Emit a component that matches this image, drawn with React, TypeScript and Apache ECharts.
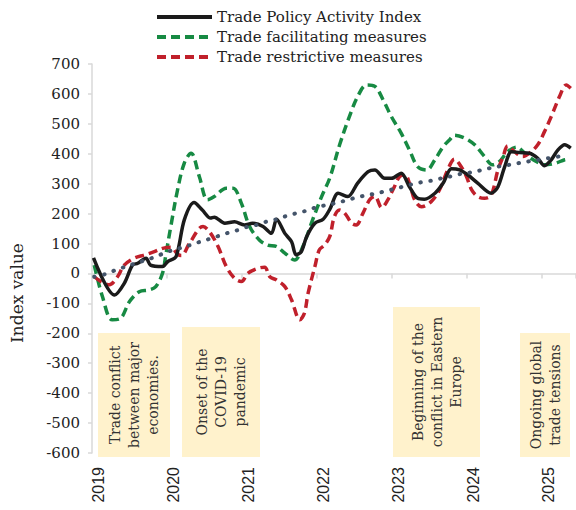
import React, { useEffect, useRef } from "react";
import * as echarts from "echarts";

// Year ticks shown on the x axis
const yearTicks = [2019, 2020, 2021, 2022, 2023, 2024, 2025];

// Series names
const seriesNames = [
  "Trade Policy Activity Index",
  "Trade facilitating measures",
  "Trade restrictive measures",
];

// [year, index value]
const tpai: [number, number][] = [
  [2019.02, 52], [2019.30, -72], [2019.43, -33], [2019.54, 28], [2019.61, 34],
  [2019.72, 51], [2019.78, 28], [2019.94, 23], [2020.01, 40], [2020.12, 56],
  [2020.23, 179], [2020.36, 237], [2020.47, 212], [2020.58, 185], [2020.63, 188],
  [2020.77, 168], [2020.90, 173], [2021.03, 162], [2021.14, 168], [2021.28, 157],
  [2021.39, 134], [2021.46, 181], [2021.57, 134], [2021.66, 106], [2021.72, 62],
  [2021.79, 73], [2021.86, 123], [2021.97, 168], [2022.08, 181], [2022.17, 215],
  [2022.28, 268], [2022.41, 257], [2022.54, 302], [2022.68, 340], [2022.77, 346],
  [2022.90, 318], [2022.99, 318], [2023.12, 335], [2023.23, 290], [2023.34, 251],
  [2023.43, 248], [2023.57, 268], [2023.68, 302], [2023.79, 350], [2023.90, 346],
  [2024.01, 329], [2024.14, 302], [2024.32, 268], [2024.41, 290], [2024.50, 357],
  [2024.59, 407], [2024.70, 404], [2024.83, 402], [2024.94, 385], [2025.03, 360],
  [2025.12, 380], [2025.21, 413], [2025.30, 430], [2025.38, 419],
];

const facilitating: [number, number][] = [
  [2019.03, 28], [2019.14, -78], [2019.27, -155], [2019.38, -150], [2019.50, -94],
  [2019.63, -61], [2019.76, -55], [2019.85, -44], [2019.94, 1], [2019.98, 56],
  [2020.05, 157], [2020.14, 279], [2020.23, 369], [2020.32, 402], [2020.43, 324],
  [2020.54, 246], [2020.63, 257], [2020.79, 285], [2020.88, 285], [2020.99, 235],
  [2021.10, 157], [2021.23, 112], [2021.34, 95], [2021.46, 90], [2021.57, 68],
  [2021.70, 45], [2021.81, 90], [2021.94, 179], [2022.06, 257], [2022.17, 320],
  [2022.30, 430], [2022.43, 524], [2022.54, 591], [2022.66, 630], [2022.77, 625],
  [2022.88, 580], [2022.99, 524], [2023.12, 469], [2023.23, 413], [2023.34, 357],
  [2023.46, 346], [2023.57, 380], [2023.68, 424], [2023.77, 448], [2023.83, 462],
  [2023.97, 452], [2024.10, 430], [2024.23, 391], [2024.34, 363], [2024.43, 374],
  [2024.54, 407], [2024.66, 422], [2024.79, 396], [2024.92, 374], [2025.03, 363],
  [2025.17, 368], [2025.30, 380], [2025.37, 382],
];

const restrictive: [number, number][] = [
  [2019.03, -11], [2019.12, -27], [2019.23, -38], [2019.34, -11], [2019.43, 28],
  [2019.56, 51], [2019.70, 62], [2019.83, 73], [2019.94, 84], [2020.05, 88],
  [2020.14, 65], [2020.19, 60], [2020.30, 101], [2020.48, 157], [2020.57, 138],
  [2020.68, 90], [2020.79, 23], [2020.90, -16], [2020.99, -27], [2021.08, 1],
  [2021.21, 17], [2021.30, 21], [2021.37, -11], [2021.46, -22], [2021.57, -44],
  [2021.66, -89], [2021.77, -155], [2021.83, -133], [2021.88, -66], [2021.97, 23],
  [2022.03, 79], [2022.10, 95], [2022.17, 125], [2022.23, 190], [2022.30, 212],
  [2022.37, 201], [2022.46, 168], [2022.52, 162], [2022.61, 201], [2022.70, 246],
  [2022.77, 258], [2022.86, 220], [2022.94, 245], [2023.03, 290], [2023.10, 324],
  [2023.17, 329], [2023.23, 302], [2023.30, 246], [2023.39, 223], [2023.52, 240],
  [2023.63, 279], [2023.74, 346], [2023.83, 382], [2023.92, 357], [2023.99, 324],
  [2024.06, 279], [2024.14, 257], [2024.23, 251], [2024.32, 262], [2024.41, 346],
  [2024.48, 391], [2024.54, 426], [2024.63, 407], [2024.74, 391], [2024.83, 402],
  [2024.94, 430], [2025.03, 474], [2025.12, 524], [2025.23, 591], [2025.32, 630],
  [2025.38, 619],
];

const trend: [number, number][] = [
  [2019.03, -11], [2019.18, -2], [2019.32, 12], [2019.45, 23], [2019.58, 34],
  [2019.72, 45], [2019.85, 56], [2019.98, 70], [2020.12, 81], [2020.25, 90],
  [2020.38, 101], [2020.52, 112], [2020.66, 123], [2020.79, 134], [2020.92, 143],
  [2021.06, 155], [2021.19, 162], [2021.32, 173], [2021.46, 181], [2021.59, 192],
  [2021.72, 201], [2021.86, 210], [2022.01, 223], [2022.14, 229], [2022.28, 237],
  [2022.41, 246], [2022.54, 255], [2022.68, 262], [2022.83, 270], [2022.97, 279],
  [2023.10, 287], [2023.23, 296], [2023.37, 304], [2023.52, 310], [2023.66, 318],
  [2023.77, 324], [2023.92, 333], [2024.06, 338], [2024.20, 346], [2024.34, 354],
  [2024.48, 360], [2024.61, 365], [2024.75, 372], [2024.89, 377], [2025.03, 383],
  [2025.17, 389], [2025.31, 394],
];

// Annotation texts
const annotations = [
  "Trade conflict\nbetween major\neconomies.",
  "Onset of the\nCOVID-19\npandemic",
  "Beginning of the\nconflict in Eastern\nEurope",
  "Ongoing global\ntrade tensions",
];

const SERIF = '"DejaVu Serif", serif';
const SANS = '"Liberation Sans", Arial, sans-serif';

const boxes = [
  { x: 98, y: 333, w: 72, h: 124 },
  { x: 182, y: 327, w: 78, h: 130 },
  { x: 393, y: 307, w: 87, h: 150 },
  { x: 520, y: 333, w: 50, h: 124 },
];

function buildOption() {
  const graphic: any[] = [];
  boxes.forEach((b, i) => {
    graphic.push({
      type: "rect",
      shape: { x: b.x, y: b.y, width: b.w, height: b.h },
      style: { fill: "#FFF2CC" },
      z: 0,
      silent: true,
    });
    graphic.push({
      type: "text",
      x: b.x + b.w / 2,
      y: b.y + b.h / 2,
      rotation: Math.PI / 2,
      z: 1,
      silent: true,
      style: {
        text: annotations[i],
        fontFamily: SERIF,
        fontSize: 14,
        fill: "#333",
        align: "center",
        verticalAlign: "middle",
        textAlign: "center",
        textVerticalAlign: "middle",
        lineHeight: 19,
      },
    });
  });
  graphic.push({
    type: "text",
    x: 17,
    y: 293,
    rotation: Math.PI / 2,
    silent: true,
    style: {
      text: "Index value",
      fontFamily: SERIF,
      fontSize: 17,
      fill: "#222",
      align: "center",
      verticalAlign: "middle",
      textAlign: "center",
      textVerticalAlign: "middle",
    },
  });

  const xMin = 2019;
  const xMax = 2025.45;

  return {
    animation: false,
    backgroundColor: "#ffffff",
    grid: { left: 92, top: 64, width: 484, height: 389, containLabel: false },
    legend: {
      orient: "vertical",
      left: 155,
      top: 7,
      padding: 0,
      itemGap: 0,
      itemWidth: 55,
      itemHeight: 12,
      data: seriesNames,
      textStyle: { fontFamily: SERIF, fontSize: 15, color: "#222", lineHeight: 20 },
      lineStyle: { width: 4 },
      itemStyle: { opacity: 0 },
    },
    xAxis: [
      {
        type: "value",
        min: xMin,
        max: xMax,
        interval: 1,
        position: "bottom",
        axisLine: { show: false, onZero: false },
        axisTick: { show: false },
        splitLine: { show: false },
        axisLabel: {
          rotate: 90,
          margin: 14,
          fontFamily: SANS,
          fontSize: 16,
          color: "#222",
          verticalAlign: "top",
          lineHeight: 12,
          showMaxLabel: false,
          formatter: (v: number) => (yearTicks.includes(v) ? String(v) : ""),
        },
      },
      {
        type: "value",
        min: xMin,
        max: xMax,
        interval: 1,
        position: "bottom",
        axisLine: { show: true, onZero: true, lineStyle: { color: "#d9d9d9", width: 1.5 } },
        axisTick: { show: true, length: 5, lineStyle: { color: "#d9d9d9", width: 1.5 } },
        axisLabel: { show: false },
        splitLine: { show: false },
      },
    ],
    yAxis: {
      type: "value",
      min: -600,
      max: 700,
      interval: 100,
      axisLine: { show: true, lineStyle: { color: "#d9d9d9", width: 1.5 } },
      axisTick: { show: true, length: 4, lineStyle: { color: "#d9d9d9", width: 1.5 } },
      splitLine: { show: false },
      axisLabel: { fontFamily: SERIF, fontSize: 15, color: "#222", margin: 12 },
    },
    series: [
      {
        name: seriesNames[0],
        type: "line",
        data: tpai,
        smooth: 0.3,
        symbol: "none",
        z: 5,
        itemStyle: { color: "#1b1b1b" },
        lineStyle: { color: "#1b1b1b", width: 3.5 },
      },
      {
        name: seriesNames[1],
        type: "line",
        data: facilitating,
        smooth: 0.35,
        symbol: "none",
        z: 3,
        itemStyle: { color: "#178A43" },
        lineStyle: { color: "#178A43", width: 3.5, type: [9, 5] },
      },
      {
        name: seriesNames[2],
        type: "line",
        data: restrictive,
        smooth: 0.35,
        symbol: "none",
        z: 4,
        itemStyle: { color: "#C0202B" },
        lineStyle: { color: "#C0202B", width: 3.5, type: [9, 5] },
      },
      {
        name: "Trend",
        type: "line",
        data: trend,
        smooth: 0.3,
        symbol: "none",
        z: 6,
        itemStyle: { color: "#44546A" },
        lineStyle: { color: "#44546A", width: 4, type: [0.5, 9.5], cap: "round" },
      },
    ],
    graphic,
  };
}

export default function App() {
  const ref = useRef<HTMLDivElement>(null);
  useEffect(() => {
    if (!ref.current) return;
    const chart = echarts.init(ref.current, null, { renderer: "svg" });
    chart.setOption(buildOption() as any);
    return () => chart.dispose();
  }, []);
  return (
    <div
      ref={ref}
      style={{ position: "fixed", left: 0, top: 0, width: 576, height: 510, background: "#fff" }}
    />
  );
}
